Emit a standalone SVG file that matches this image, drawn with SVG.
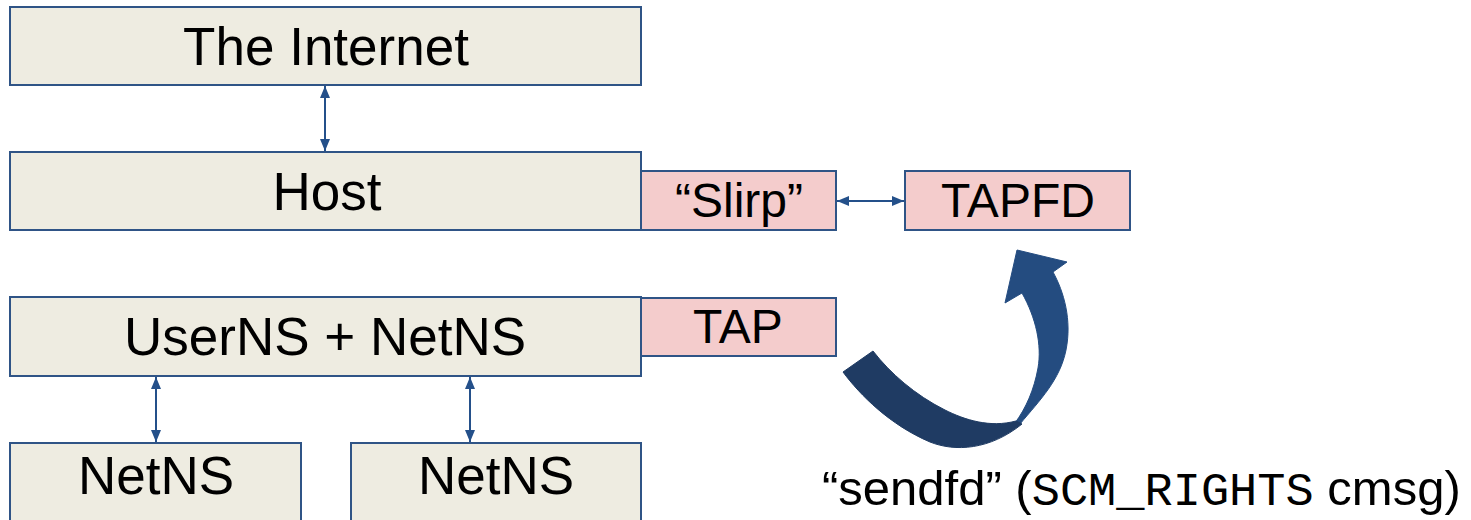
<svg xmlns="http://www.w3.org/2000/svg" width="1471" height="520" viewBox="0 0 1471 520">
  <style>
    .box { fill: #eeece1; stroke: #2f5486; stroke-width: 2; }
    .pink { fill: #f4cccc; stroke: #2f5486; stroke-width: 2; }
    .big { font-family: "Liberation Sans", Arial, sans-serif; font-size: 53px; fill: #000; text-anchor: middle; }
    .mid { font-family: "Liberation Sans", Arial, sans-serif; font-size: 48px; fill: #000; text-anchor: middle; }
    .lbl { font-family: "Liberation Sans", Arial, sans-serif; font-size: 49px; fill: #000; }
    .mono { font-family: "Liberation Mono", "Courier New", monospace; font-size: 47px; }
    .conn { stroke: #24508a; stroke-width: 2; fill: none; marker-start: url(#ah); marker-end: url(#ah); }
  </style>
  <defs>
    <marker id="ah" viewBox="0 0 12 10" refX="12" refY="5" markerWidth="12" markerHeight="10" markerUnits="userSpaceOnUse" orient="auto-start-reverse">
      <path d="M0,0 L12,5 L0,10 Z" fill="#24508a"/>
    </marker>
  </defs>

  <g id="internet">
    <rect class="box" x="10" y="7" width="631" height="78"/>
    <text class="big" x="326" y="65">The Internet</text>
  </g>
  <g id="host">
    <rect class="box" x="10" y="152" width="631" height="78"/>
    <text class="big" x="327" y="210">Host</text>
  </g>
  <g id="slirp">
    <rect class="pink" x="641" y="171" width="195" height="59"/>
    <text class="mid" x="739" y="217">“Slirp”</text>
  </g>
  <g id="tapfd">
    <rect class="pink" x="905" y="171" width="225" height="59"/>
    <text class="mid" x="1018" y="217">TAPFD</text>
  </g>
  <g id="userns">
    <rect class="box" x="10" y="297" width="631" height="79"/>
    <text class="big" x="325" y="355">UserNS + NetNS</text>
  </g>
  <g id="tap">
    <rect class="pink" x="641" y="298" width="195" height="58"/>
    <text class="mid" x="738" y="343">TAP</text>
  </g>
  <g id="netns1">
    <rect class="box" x="10" y="443" width="291" height="90"/>
    <text class="big" x="156" y="494">NetNS</text>
  </g>
  <g id="netns2">
    <rect class="box" x="351" y="443" width="290" height="90"/>
    <text class="big" x="496" y="494">NetNS</text>
  </g>

  <g id="connectors">
    <line class="conn" x1="325" y1="86" x2="325" y2="151"/>
    <line class="conn" x1="837" y1="201" x2="904" y2="201"/>
    <line class="conn" x1="156" y1="377" x2="156" y2="442"/>
    <line class="conn" x1="470" y1="377" x2="470" y2="442"/>
  </g>

  <g id="sendfd-arrow">
    <path d="M1020,424 C1040,400 1060,380 1066,350 C1072,320 1064,292 1053,272 L1067,262 L1017,250 L1005,303 L1022,293 C1036,318 1042,345 1038,368 C1034,390 1026,408 1015,423 Z" fill="#244c80" stroke="#244c80" stroke-width="1"/>
    <path d="M843,372 C860,395 890,425 930,442 C955,452 990,450 1022,424 L1016,421 C990,428 965,420 945,410 C915,395 890,373 873,351 Z" fill="#1f3b63" stroke="#1f3b63" stroke-width="1"/>
  </g>

  <g id="caption">
    <text class="lbl" x="822" y="505">“sendfd” (<tspan class="mono">SCM_RIGHTS</tspan> cmsg)</text>
  </g>
</svg>
